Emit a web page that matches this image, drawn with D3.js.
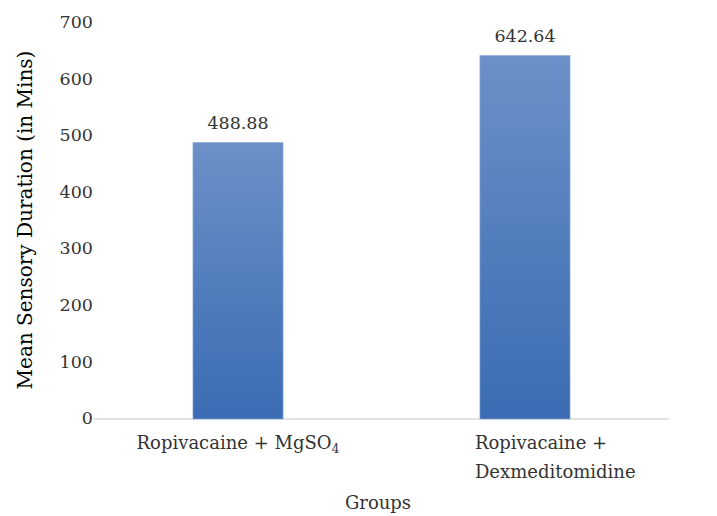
<!DOCTYPE html>
<html><head><meta charset="utf-8">
<script src="https://cdn.jsdelivr.net/npm/d3@7"></script>
<style>body{margin:0;background:#fff}svg{display:block}</style>
</head><body>
<script>
const categories = ["Ropivacaine + MgSO4", "Ropivacaine + Dexmeditomidine"];
const values = [488.88, 642.64];
const valueLabels = ["488.88", "642.64"];
const yTicks = [0, 100, 200, 300, 400, 500, 600, 700];
const yTitle = "Mean Sensory Duration (in Mins)";
const xTitle = "Groups";

const W = 717, H = 516;
const font = "'DejaVu Serif', serif";
const fs = 18;
const col = "#333";
const svg = d3.select("body").append("svg").attr("width", W).attr("height", H);
const defs = svg.append("defs");
const grad = defs.append("linearGradient").attr("id", "g").attr("x1", 0).attr("x2", 0).attr("y1", 0).attr("y2", 1);
grad.append("stop").attr("offset", "0%").attr("stop-color", "#6b90c8");
grad.append("stop").attr("offset", "100%").attr("stop-color", "#3b6cb3");

const x = d3.scaleBand().domain(categories).range([94.5, 668.5]).paddingInner(0.686).paddingOuter(0.343);
const y = d3.scaleLinear().domain([0, 700]).range([419, 23]);

// axis line
svg.append("line").attr("x1", 94).attr("x2", 669).attr("y1", y(0)).attr("y2", y(0))
  .attr("stroke", "#d9d9d9").attr("stroke-width", 1.5);

// y ticks
svg.selectAll(".yt").data(yTicks).enter().append("text")
  .attr("x", 93).attr("y", d => y(d) - 1).attr("dy", "0.35em")
  .attr("text-anchor", "end").attr("font-family", font).attr("font-size", 17.5)
  .attr("fill", col).text(d => d);

// bars
svg.selectAll(".bar").data(values).enter().append("rect")
  .attr("x", (d, i) => x(categories[i])).attr("width", x.bandwidth())
  .attr("y", d => y(d)).attr("height", d => y(0) - y(d))
  .attr("fill", "url(#g)").attr("stroke", "#8fb0dc").attr("stroke-width", 0.6);

// value labels
svg.selectAll(".vl").data(values).enter().append("text")
  .attr("x", (d, i) => x(categories[i]) + x.bandwidth() / 2).attr("y", d => y(d) - 13)
  .attr("text-anchor", "middle").attr("font-family", font).attr("font-size", 17.5)
  .attr("fill", col).text((d, i) => valueLabels[i]);

// category labels
const c1 = svg.append("text").attr("x", x(categories[0]) + x.bandwidth() / 2).attr("y", 449)
  .attr("text-anchor", "middle").attr("font-family", font).attr("font-size", fs).attr("fill", col);
c1.append("tspan").text("Ropivacaine + MgSO");
c1.append("tspan").attr("font-size", 12.5).attr("dy", 4).text("4");

const c2 = svg.append("text").attr("font-family", font).attr("font-size", fs).attr("fill", col);
const c2x = x(categories[1]) - 5;
c2.append("tspan").attr("x", c2x).attr("y", 449).text("Ropivacaine +");
c2.append("tspan").attr("x", c2x).attr("y", 478).text("Dexmeditomidine");

// axis titles
svg.append("text").attr("x", 378).attr("y", 509).attr("text-anchor", "middle")
  .attr("font-family", font).attr("font-size", fs).attr("fill", col).text(xTitle);
svg.append("text").attr("transform", "translate(32,220) rotate(-90)").attr("text-anchor", "middle")
  .attr("font-family", font).attr("font-size", 20).attr("fill", "#000").text(yTitle);
</script>
</body></html>
